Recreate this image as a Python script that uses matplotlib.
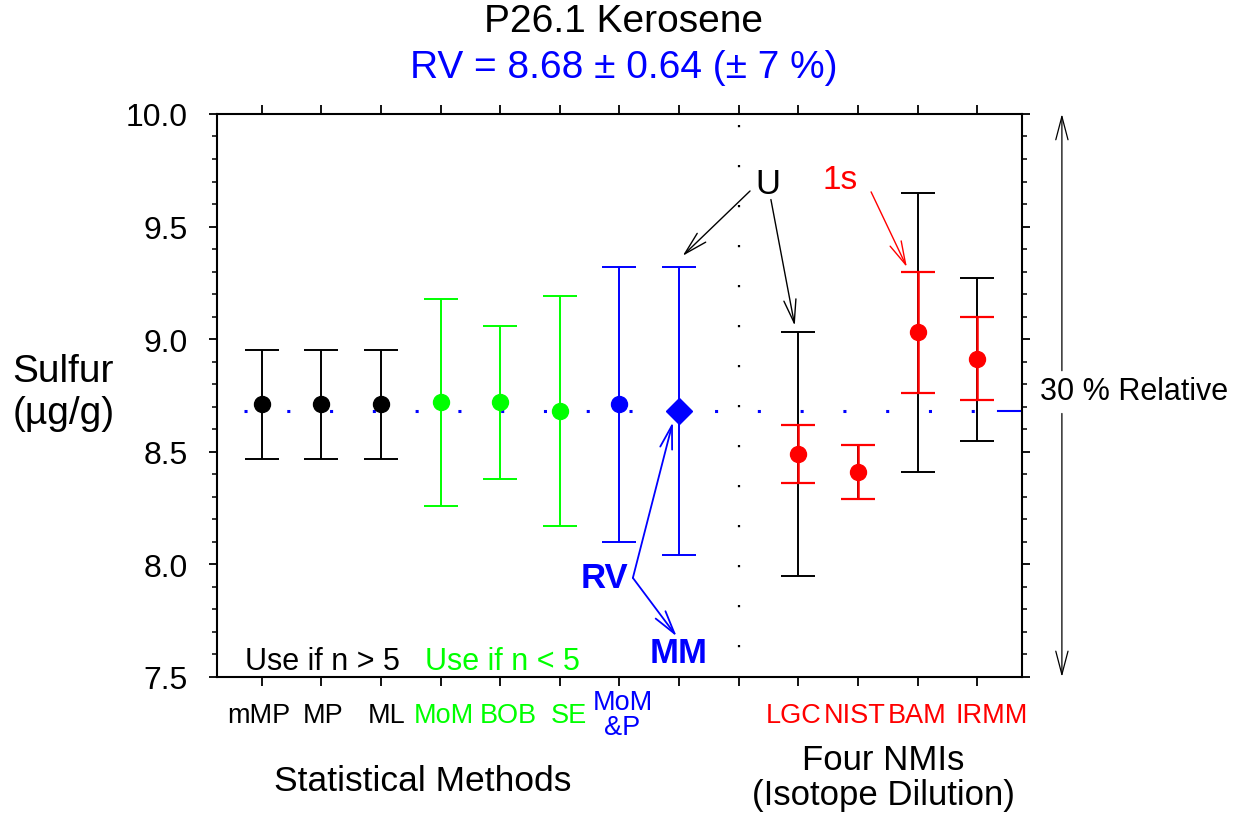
import matplotlib.pyplot as plt
import numpy as np

plt.rcParams['font.family'] = ['Liberation Sans', 'DejaVu Sans']

# 統計手法の結果
stat_labels = ['mMP', 'MP', 'ML', 'MoM', 'BOB', 'SE', 'MoM\n&P', '']
stat_colors = ['black', 'black', 'black', '#00ff00', '#00ff00', '#00ff00', 'blue', 'blue']
stat_vals = [8.71, 8.71, 8.71, 8.72, 8.72, 8.68, 8.71, 8.68]
stat_lo = [8.47, 8.47, 8.47, 8.26, 8.38, 8.17, 8.10, 8.04]
stat_hi = [8.95, 8.95, 8.95, 9.18, 9.06, 9.19, 9.32, 9.32]

# NMI (同位体希釈法)
nmi_labels = ['LGC', 'NIST', 'BAM', 'IRMM']
nmi_vals = [8.49, 8.41, 9.03, 8.91]
nmi_u_lo = [7.95, 8.29, 8.41, 8.55]
nmi_u_hi = [9.03, 8.53, 9.65, 9.27]
nmi_s_lo = [8.36, 8.29, 8.76, 8.73]
nmi_s_hi = [8.62, 8.53, 9.30, 9.10]

rv = 8.68
green = '#00ff00'

fig = plt.figure(figsize=(12.44, 8.2), dpi=100)
ax = fig.add_axes([0.1744, 0.1732, 0.6471, 0.6866])

stat_x = np.arange(1, 9)
nmi_x = np.arange(10, 14)

# 基準値の点線
ax.plot([0.71, 13.35], [rv, rv], color='blue', lw=2.2, linestyle=(0, (1, 13)), zorder=1)
ax.plot([13.35, 13.75], [rv, rv], color='blue', lw=1.5, zorder=1)
# 区切りの点線
ax.plot([9, 9], [9.95, 7.6], color='black', lw=1.6, linestyle=(0, (1, 17)), zorder=1)

for x, v, lo, hi, c in zip(stat_x, stat_vals, stat_lo, stat_hi, stat_colors):
    m = 'D' if x == 8 else 'o'
    ms = 13 if x == 8 else 11.5
    ax.errorbar(x, v, yerr=[[v - lo], [hi - v]], fmt=m, color=c, ms=ms,
                capsize=12, elinewidth=1.4, capthick=1.4, zorder=3)

for x, v, ulo, uhi, slo, shi in zip(nmi_x, nmi_vals, nmi_u_lo, nmi_u_hi, nmi_s_lo, nmi_s_hi):
    ax.errorbar(x, v, yerr=[[v - ulo], [uhi - v]], fmt='none', ecolor='black',
                capsize=12, elinewidth=1.4, capthick=1.4, zorder=2)
    ax.errorbar(x, v, yerr=[[v - slo], [shi - v]], fmt='o', color='red', ms=11.5,
                capsize=12, elinewidth=1.8, capthick=1.6, zorder=3)

ax.set_xlim(0.25, 13.75)
ax.set_ylim(7.5, 10.0)

ax.set_xticks(np.arange(1, 14))
ax.set_xticklabels([])
ax.set_yticks(np.arange(7.5, 10.01, 0.5))
ax.set_yticks(np.arange(7.5, 10.01, 0.1), minor=True)
ax.yaxis.set_major_formatter(plt.FormatStrFormatter('%.1f'))

ax.tick_params(axis='x', which='major', direction='out', length=6.5, width=1.3, top=True)
ax.tick_params(axis='y', which='major', direction='out', length=6, width=1.3,
               right=True, labelsize=23, pad=15)
ax.tick_params(axis='y', which='minor', direction='out', length=3.6, width=1.1, right=True)
for s in ax.spines.values():
    s.set_linewidth(1.5)

# x 軸のラベル (元の図では少しずれて置かれている)
xt = ax.get_xaxis_transform()
stat_shift = [-0.05, 0.03, 0.1, 0.05, 0.13, 0.15, 0.05, 0.0]
for x, dx, lbl, c in zip(stat_x, stat_shift, stat_labels, stat_colors):
    ax.text(x + dx, -0.0675, lbl, transform=xt, fontsize=19.5, color=c, ha='center',
            va='center', linespacing=0.95)
nmi_shift = [-0.08, -0.05, 0.0, 0.25]
for x, dx, lbl in zip(nmi_x, nmi_shift, nmi_labels):
    ax.text(x + dx, -0.0675, lbl, transform=xt, fontsize=19.5, color='red',
            ha='center', va='center')

ax.set_ylabel('Sulfur\n(µg/g)', fontsize=28, rotation=0, ha='center', va='center')
ax.yaxis.set_label_coords(-0.191, 0.506)

ax.text(0.505, 1.165, 'P26.1 Kerosene', transform=ax.transAxes, fontsize=28,
        ha='center', va='center')
ax.text(0.505, 1.083, 'RV = 8.68 ± 0.64 (± 7 %)', transform=ax.transAxes, fontsize=28,
        ha='center', va='center', color='blue')

ax.text(3.70, 7.04, 'Statistical Methods', fontsize=25.5, ha='center', va='center', clip_on=False)
ax.text(11.42, 7.056, 'Four NMIs\n(Isotope Dilution)', fontsize=25, ha='center', va='center',
        linespacing=1.07, clip_on=False)

ax.text(0.715, 7.535, 'Use if n > 5', fontsize=22, ha='left', va='baseline')
ax.text(3.735, 7.535, 'Use if n < 5', fontsize=22, ha='left', va='baseline', color=green)
ax.text(6.74, 7.94, 'RV', fontsize=25, fontweight='bold', color='blue', ha='center', va='center')
ax.text(8.0, 7.607, 'MM', fontsize=25, fontweight='bold', color='blue', ha='center', va='center')
ax.text(9.49, 9.69, 'U', fontsize=25, ha='center', va='center')
ax.text(10.70, 9.71, '1s', fontsize=24, color='red', ha='center', va='center')


def arrow(tail, head, color, lw=1.0):
    ax.annotate('', xy=head, xytext=tail, annotation_clip=False,
                arrowprops=dict(arrowstyle='->,head_length=0.84,head_width=0.22',
                                mutation_scale=20, color=color, lw=lw,
                                shrinkA=0, shrinkB=0))


arrow((9.19, 9.658), (8.06, 9.37), 'black')
arrow((9.54, 9.62), (9.94, 9.06), 'black')
arrow((11.22, 9.654), (11.82, 9.32), 'red')
arrow((7.225, 7.94), (7.896, 8.632), 'blue', 1.3)
arrow((7.225, 7.94), (7.96, 7.68), 'blue', 1.3)

# 右側の 30 % 矢印
arrow((14.42, 8.86), (14.42, 10.0), 'black', 0.9)
arrow((14.42, 8.67), (14.42, 7.5), 'black', 0.9)
ax.text(14.05, 8.77, '30 % Relative', fontsize=22, ha='left', va='center', clip_on=False)

fig.savefig('out.png', dpi=100)
